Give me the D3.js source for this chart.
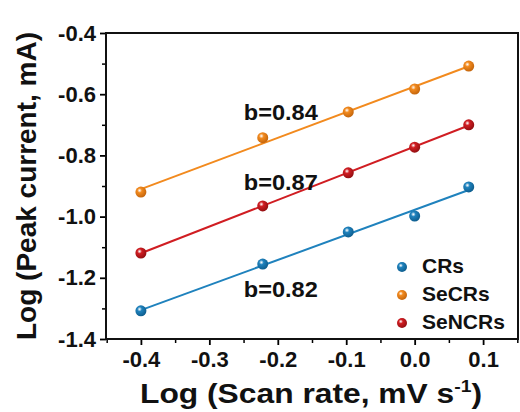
<!DOCTYPE html>
<html>
<head>
<meta charset="utf-8">
<script src="https://cdn.jsdelivr.net/npm/d3@7"></script>
<style>
  body { margin: 0; background: #fff; }
  text { font-family: "Liberation Sans", Arial, sans-serif; font-weight: bold; fill: #111; }
</style>
</head>
<body>
<div id="chart"></div>
<script>
// log scan rate (x) and log peak current per sample
const logRate = [-0.4, -0.222, -0.097, 0, 0.079];
const crs = [-1.308, -1.155, -1.05, -0.998, -0.903];
const secrs = [-0.92, -0.742, -0.658, -0.583, -0.508];
const sencrs = [-1.119, -0.965, -0.857, -0.773, -0.70];
const seriesNames = ["CRs", "SeCRs", "SeNCRs"];
const slopeLabels = ["b=0.82", "b=0.84", "b=0.87"];
const xTicks = [-0.4, -0.3, -0.2, -0.1, 0.0, 0.1];
const yTicks = [-1.4, -1.2, -1.0, -0.8, -0.6, -0.4];

const width = 520, height = 412,
    margin = { top: 33, right: 2, bottom: 73, left: 106 };

const colors = { CRs: "#1f82bd", SeCRs: "#f28a1e", SeNCRs: "#d01d22" };
const dark = { CRs: "#0c5a8a", SeCRs: "#c0620a", SeNCRs: "#8e0d10" };

const fmt = d => d.toFixed(1).replace("\u2212", "-");

const svg = d3.select("#chart").append("svg")
    .attr("width", width).attr("height", height);

let x = d3.scaleLinear()
    .domain([-0.451, 0.151])
    .range([margin.left, width - margin.right]);

let y = d3.scaleLinear()
    .domain([-1.4, -0.4])
    .range([height - margin.bottom, margin.top]);

// sphere-like gradients
const defs = svg.append("defs");
for (let name of seriesNames) {
    let g = defs.append("radialGradient")
        .attr("id", "grad" + name)
        .attr("cx", "0.38").attr("cy", "0.35").attr("r", "0.7");
    g.append("stop").attr("offset", "0%").attr("stop-color", "#fff").attr("stop-opacity", 0.85);
    g.append("stop").attr("offset", "30%").attr("stop-color", colors[name]);
    g.append("stop").attr("offset", "100%").attr("stop-color", dark[name]);
}

// axes
const minorX = d3.range(-0.45, 0.151, 0.05).filter(v => Math.abs(Math.round(v * 10) - v * 10) > 0.01);
const minorY = d3.range(-1.3, -0.39, 0.2);

svg.append("g")
    .attr("transform", `translate(0,${height - margin.bottom})`)
    .call(d3.axisBottom(x).tickValues(minorX).tickSize(4).tickFormat(""))
    .call(g => g.select(".domain").remove())
    .call(g => g.selectAll("line").attr("stroke-width", 1.5));

svg.append("g")
    .attr("transform", `translate(${margin.left},0)`)
    .call(d3.axisLeft(y).tickValues(minorY).tickSize(4).tickFormat(""))
    .call(g => g.select(".domain").remove())
    .call(g => g.selectAll("line").attr("stroke-width", 1.5));

svg.append("g")
    .attr("transform", `translate(0,${height - margin.bottom})`)
    .call(d3.axisBottom(x).tickValues(xTicks).tickSize(6).tickPadding(6).tickFormat(fmt))
    .call(g => g.select(".domain").remove())
    .call(g => g.selectAll("line").attr("stroke-width", 1.8))
    .call(g => g.selectAll("text").attr("font-size", 22).attr("font-family", null).attr("fill", "#111"));

svg.append("g")
    .attr("transform", `translate(${margin.left},0)`)
    .call(d3.axisLeft(y).tickValues(yTicks).tickSize(6).tickPadding(4).tickFormat(fmt))
    .call(g => g.select(".domain").remove())
    .call(g => g.selectAll("line").attr("stroke-width", 1.8))
    .call(g => g.selectAll("text").attr("font-size", 22).attr("font-family", null).attr("fill", "#111"));

// frame
svg.append("rect")
    .attr("x", margin.left).attr("y", margin.top)
    .attr("width", width - margin.right - margin.left)
    .attr("height", height - margin.bottom - margin.top)
    .attr("fill", "none").attr("stroke", "#111").attr("stroke-width", 2);

// series
const allSeries = [
    { name: "CRs", values: crs },
    { name: "SeCRs", values: secrs },
    { name: "SeNCRs", values: sencrs }
];

function fit(xs, ys) {
    let mx = d3.mean(xs), my = d3.mean(ys);
    let num = d3.sum(xs, (v, i) => (v - mx) * (ys[i] - my));
    let den = d3.sum(xs, v => (v - mx) * (v - mx));
    let k = num / den;
    return { k, c: my - k * mx };
}

for (let s of allSeries) {
    let f = fit(logRate, s.values);
    let ends = d3.extent(logRate);
    svg.append("line")
        .attr("x1", x(ends[0])).attr("y1", y(f.c + f.k * ends[0]))
        .attr("x2", x(ends[1])).attr("y2", y(f.c + f.k * ends[1]))
        .attr("stroke", colors[s.name]).attr("stroke-width", 2);

    svg.append("g").selectAll("circle")
        .data(s.values)
        .join("circle")
        .attr("cx", (d, i) => x(logRate[i]))
        .attr("cy", d => y(d))
        .attr("r", 5.5)
        .attr("fill", `url(#grad${s.name})`);
}

// slope labels
const labelPos = [[-0.2, -1.245], [-0.2, -0.665], [-0.2, -0.895]];
slopeLabels.forEach((t, i) => {
    svg.append("text")
        .attr("x", x(labelPos[i][0]) + 3)
        .attr("y", y(labelPos[i][1]))
        .attr("text-anchor", "middle")
        .attr("dominant-baseline", "middle")
        .attr("font-size", 22)
        .attr("textLength", 74)
        .attr("lengthAdjust", "spacingAndGlyphs")
        .text(t);
});

// legend
const legend = svg.append("g").attr("transform", "translate(402,267)");
seriesNames.forEach((name, i) => {
    let row = legend.append("g").attr("transform", `translate(0,${i * 28})`);
    row.append("circle").attr("r", 5).attr("fill", `url(#grad${name})`);
    row.append("text").attr("x", 20).attr("dominant-baseline", "middle")
        .attr("font-size", 21).text(name);
});

// axis titles
const xt = svg.append("text")
    .attr("x", 140)
    .attr("y", 403)
    .attr("font-size", 28)
    .attr("textLength", 342)
    .attr("lengthAdjust", "spacingAndGlyphs");
xt.append("tspan").text("Log (Scan rate, mV s");
xt.append("tspan").attr("font-size", 17).attr("dy", -11).text("-1");
xt.append("tspan").attr("dy", 11).text(")");

svg.append("text")
    .attr("transform", `translate(36,${(margin.top + height - margin.bottom) / 2}) rotate(-90)`)
    .attr("text-anchor", "middle")
    .attr("font-size", 28)
    .text("Log (Peak current, mA)");
</script>
</body>
</html>
